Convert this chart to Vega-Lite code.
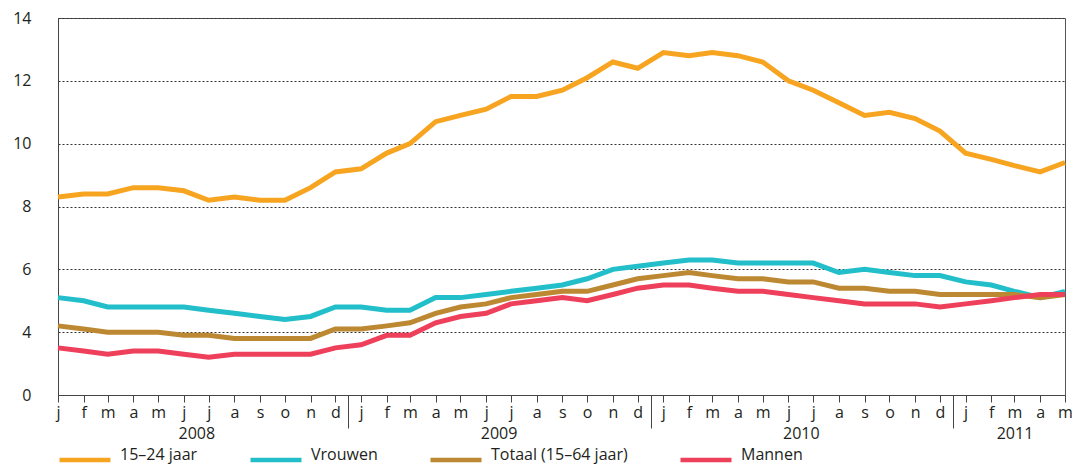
{
  "$schema": "https://vega.github.io/schema/vega-lite/v6.json",
  "width": 1007,
  "height": 377,
  "autosize": {"type": "none"},
  "padding": {"left": 58, "top": 18, "right": 7, "bottom": 69},
  "background": "white",
  "config": {
    "font": "Open Sans",
    "view": {"stroke": "#555", "strokeWidth": 1},
    "axis": {"labelFont": "Open Sans", "labelFontSize": 16, "labelColor": "#231f20", "title": null}
  },
  "data": {
    "values": [
      {"date": "2008-01-01", "series": "15–24 jaar", "value": 8.3},
      {"date": "2008-02-01", "series": "15–24 jaar", "value": 8.4},
      {"date": "2008-03-01", "series": "15–24 jaar", "value": 8.4},
      {"date": "2008-04-01", "series": "15–24 jaar", "value": 8.6},
      {"date": "2008-05-01", "series": "15–24 jaar", "value": 8.6},
      {"date": "2008-06-01", "series": "15–24 jaar", "value": 8.5},
      {"date": "2008-07-01", "series": "15–24 jaar", "value": 8.2},
      {"date": "2008-08-01", "series": "15–24 jaar", "value": 8.3},
      {"date": "2008-09-01", "series": "15–24 jaar", "value": 8.2},
      {"date": "2008-10-01", "series": "15–24 jaar", "value": 8.2},
      {"date": "2008-11-01", "series": "15–24 jaar", "value": 8.6},
      {"date": "2008-12-01", "series": "15–24 jaar", "value": 9.1},
      {"date": "2009-01-01", "series": "15–24 jaar", "value": 9.2},
      {"date": "2009-02-01", "series": "15–24 jaar", "value": 9.7},
      {"date": "2009-03-01", "series": "15–24 jaar", "value": 10.0},
      {"date": "2009-04-01", "series": "15–24 jaar", "value": 10.7},
      {"date": "2009-05-01", "series": "15–24 jaar", "value": 10.9},
      {"date": "2009-06-01", "series": "15–24 jaar", "value": 11.1},
      {"date": "2009-07-01", "series": "15–24 jaar", "value": 11.5},
      {"date": "2009-08-01", "series": "15–24 jaar", "value": 11.5},
      {"date": "2009-09-01", "series": "15–24 jaar", "value": 11.7},
      {"date": "2009-10-01", "series": "15–24 jaar", "value": 12.1},
      {"date": "2009-11-01", "series": "15–24 jaar", "value": 12.6},
      {"date": "2009-12-01", "series": "15–24 jaar", "value": 12.4},
      {"date": "2010-01-01", "series": "15–24 jaar", "value": 12.9},
      {"date": "2010-02-01", "series": "15–24 jaar", "value": 12.8},
      {"date": "2010-03-01", "series": "15–24 jaar", "value": 12.9},
      {"date": "2010-04-01", "series": "15–24 jaar", "value": 12.8},
      {"date": "2010-05-01", "series": "15–24 jaar", "value": 12.6},
      {"date": "2010-06-01", "series": "15–24 jaar", "value": 12.0},
      {"date": "2010-07-01", "series": "15–24 jaar", "value": 11.7},
      {"date": "2010-08-01", "series": "15–24 jaar", "value": 11.3},
      {"date": "2010-09-01", "series": "15–24 jaar", "value": 10.9},
      {"date": "2010-10-01", "series": "15–24 jaar", "value": 11.0},
      {"date": "2010-11-01", "series": "15–24 jaar", "value": 10.8},
      {"date": "2010-12-01", "series": "15–24 jaar", "value": 10.4},
      {"date": "2011-01-01", "series": "15–24 jaar", "value": 9.7},
      {"date": "2011-02-01", "series": "15–24 jaar", "value": 9.5},
      {"date": "2011-03-01", "series": "15–24 jaar", "value": 9.3},
      {"date": "2011-04-01", "series": "15–24 jaar", "value": 9.1},
      {"date": "2011-05-01", "series": "15–24 jaar", "value": 9.4},

      {"date": "2008-01-01", "series": "Vrouwen", "value": 5.1},
      {"date": "2008-02-01", "series": "Vrouwen", "value": 5.0},
      {"date": "2008-03-01", "series": "Vrouwen", "value": 4.8},
      {"date": "2008-04-01", "series": "Vrouwen", "value": 4.8},
      {"date": "2008-05-01", "series": "Vrouwen", "value": 4.8},
      {"date": "2008-06-01", "series": "Vrouwen", "value": 4.8},
      {"date": "2008-07-01", "series": "Vrouwen", "value": 4.7},
      {"date": "2008-08-01", "series": "Vrouwen", "value": 4.6},
      {"date": "2008-09-01", "series": "Vrouwen", "value": 4.5},
      {"date": "2008-10-01", "series": "Vrouwen", "value": 4.4},
      {"date": "2008-11-01", "series": "Vrouwen", "value": 4.5},
      {"date": "2008-12-01", "series": "Vrouwen", "value": 4.8},
      {"date": "2009-01-01", "series": "Vrouwen", "value": 4.8},
      {"date": "2009-02-01", "series": "Vrouwen", "value": 4.7},
      {"date": "2009-03-01", "series": "Vrouwen", "value": 4.7},
      {"date": "2009-04-01", "series": "Vrouwen", "value": 5.1},
      {"date": "2009-05-01", "series": "Vrouwen", "value": 5.1},
      {"date": "2009-06-01", "series": "Vrouwen", "value": 5.2},
      {"date": "2009-07-01", "series": "Vrouwen", "value": 5.3},
      {"date": "2009-08-01", "series": "Vrouwen", "value": 5.4},
      {"date": "2009-09-01", "series": "Vrouwen", "value": 5.5},
      {"date": "2009-10-01", "series": "Vrouwen", "value": 5.7},
      {"date": "2009-11-01", "series": "Vrouwen", "value": 6.0},
      {"date": "2009-12-01", "series": "Vrouwen", "value": 6.1},
      {"date": "2010-01-01", "series": "Vrouwen", "value": 6.2},
      {"date": "2010-02-01", "series": "Vrouwen", "value": 6.3},
      {"date": "2010-03-01", "series": "Vrouwen", "value": 6.3},
      {"date": "2010-04-01", "series": "Vrouwen", "value": 6.2},
      {"date": "2010-05-01", "series": "Vrouwen", "value": 6.2},
      {"date": "2010-06-01", "series": "Vrouwen", "value": 6.2},
      {"date": "2010-07-01", "series": "Vrouwen", "value": 6.2},
      {"date": "2010-08-01", "series": "Vrouwen", "value": 5.9},
      {"date": "2010-09-01", "series": "Vrouwen", "value": 6.0},
      {"date": "2010-10-01", "series": "Vrouwen", "value": 5.9},
      {"date": "2010-11-01", "series": "Vrouwen", "value": 5.8},
      {"date": "2010-12-01", "series": "Vrouwen", "value": 5.8},
      {"date": "2011-01-01", "series": "Vrouwen", "value": 5.6},
      {"date": "2011-02-01", "series": "Vrouwen", "value": 5.5},
      {"date": "2011-03-01", "series": "Vrouwen", "value": 5.3},
      {"date": "2011-04-01", "series": "Vrouwen", "value": 5.1},
      {"date": "2011-05-01", "series": "Vrouwen", "value": 5.3},

      {"date": "2008-01-01", "series": "Totaal (15–64 jaar)", "value": 4.2},
      {"date": "2008-02-01", "series": "Totaal (15–64 jaar)", "value": 4.1},
      {"date": "2008-03-01", "series": "Totaal (15–64 jaar)", "value": 4.0},
      {"date": "2008-04-01", "series": "Totaal (15–64 jaar)", "value": 4.0},
      {"date": "2008-05-01", "series": "Totaal (15–64 jaar)", "value": 4.0},
      {"date": "2008-06-01", "series": "Totaal (15–64 jaar)", "value": 3.9},
      {"date": "2008-07-01", "series": "Totaal (15–64 jaar)", "value": 3.9},
      {"date": "2008-08-01", "series": "Totaal (15–64 jaar)", "value": 3.8},
      {"date": "2008-09-01", "series": "Totaal (15–64 jaar)", "value": 3.8},
      {"date": "2008-10-01", "series": "Totaal (15–64 jaar)", "value": 3.8},
      {"date": "2008-11-01", "series": "Totaal (15–64 jaar)", "value": 3.8},
      {"date": "2008-12-01", "series": "Totaal (15–64 jaar)", "value": 4.1},
      {"date": "2009-01-01", "series": "Totaal (15–64 jaar)", "value": 4.1},
      {"date": "2009-02-01", "series": "Totaal (15–64 jaar)", "value": 4.2},
      {"date": "2009-03-01", "series": "Totaal (15–64 jaar)", "value": 4.3},
      {"date": "2009-04-01", "series": "Totaal (15–64 jaar)", "value": 4.6},
      {"date": "2009-05-01", "series": "Totaal (15–64 jaar)", "value": 4.8},
      {"date": "2009-06-01", "series": "Totaal (15–64 jaar)", "value": 4.9},
      {"date": "2009-07-01", "series": "Totaal (15–64 jaar)", "value": 5.1},
      {"date": "2009-08-01", "series": "Totaal (15–64 jaar)", "value": 5.2},
      {"date": "2009-09-01", "series": "Totaal (15–64 jaar)", "value": 5.3},
      {"date": "2009-10-01", "series": "Totaal (15–64 jaar)", "value": 5.3},
      {"date": "2009-11-01", "series": "Totaal (15–64 jaar)", "value": 5.5},
      {"date": "2009-12-01", "series": "Totaal (15–64 jaar)", "value": 5.7},
      {"date": "2010-01-01", "series": "Totaal (15–64 jaar)", "value": 5.8},
      {"date": "2010-02-01", "series": "Totaal (15–64 jaar)", "value": 5.9},
      {"date": "2010-03-01", "series": "Totaal (15–64 jaar)", "value": 5.8},
      {"date": "2010-04-01", "series": "Totaal (15–64 jaar)", "value": 5.7},
      {"date": "2010-05-01", "series": "Totaal (15–64 jaar)", "value": 5.7},
      {"date": "2010-06-01", "series": "Totaal (15–64 jaar)", "value": 5.6},
      {"date": "2010-07-01", "series": "Totaal (15–64 jaar)", "value": 5.6},
      {"date": "2010-08-01", "series": "Totaal (15–64 jaar)", "value": 5.4},
      {"date": "2010-09-01", "series": "Totaal (15–64 jaar)", "value": 5.4},
      {"date": "2010-10-01", "series": "Totaal (15–64 jaar)", "value": 5.3},
      {"date": "2010-11-01", "series": "Totaal (15–64 jaar)", "value": 5.3},
      {"date": "2010-12-01", "series": "Totaal (15–64 jaar)", "value": 5.2},
      {"date": "2011-01-01", "series": "Totaal (15–64 jaar)", "value": 5.2},
      {"date": "2011-02-01", "series": "Totaal (15–64 jaar)", "value": 5.2},
      {"date": "2011-03-01", "series": "Totaal (15–64 jaar)", "value": 5.2},
      {"date": "2011-04-01", "series": "Totaal (15–64 jaar)", "value": 5.1},
      {"date": "2011-05-01", "series": "Totaal (15–64 jaar)", "value": 5.2},

      {"date": "2008-01-01", "series": "Mannen", "value": 3.5},
      {"date": "2008-02-01", "series": "Mannen", "value": 3.4},
      {"date": "2008-03-01", "series": "Mannen", "value": 3.3},
      {"date": "2008-04-01", "series": "Mannen", "value": 3.4},
      {"date": "2008-05-01", "series": "Mannen", "value": 3.4},
      {"date": "2008-06-01", "series": "Mannen", "value": 3.3},
      {"date": "2008-07-01", "series": "Mannen", "value": 3.2},
      {"date": "2008-08-01", "series": "Mannen", "value": 3.3},
      {"date": "2008-09-01", "series": "Mannen", "value": 3.3},
      {"date": "2008-10-01", "series": "Mannen", "value": 3.3},
      {"date": "2008-11-01", "series": "Mannen", "value": 3.3},
      {"date": "2008-12-01", "series": "Mannen", "value": 3.5},
      {"date": "2009-01-01", "series": "Mannen", "value": 3.6},
      {"date": "2009-02-01", "series": "Mannen", "value": 3.9},
      {"date": "2009-03-01", "series": "Mannen", "value": 3.9},
      {"date": "2009-04-01", "series": "Mannen", "value": 4.3},
      {"date": "2009-05-01", "series": "Mannen", "value": 4.5},
      {"date": "2009-06-01", "series": "Mannen", "value": 4.6},
      {"date": "2009-07-01", "series": "Mannen", "value": 4.9},
      {"date": "2009-08-01", "series": "Mannen", "value": 5.0},
      {"date": "2009-09-01", "series": "Mannen", "value": 5.1},
      {"date": "2009-10-01", "series": "Mannen", "value": 5.0},
      {"date": "2009-11-01", "series": "Mannen", "value": 5.2},
      {"date": "2009-12-01", "series": "Mannen", "value": 5.4},
      {"date": "2010-01-01", "series": "Mannen", "value": 5.5},
      {"date": "2010-02-01", "series": "Mannen", "value": 5.5},
      {"date": "2010-03-01", "series": "Mannen", "value": 5.4},
      {"date": "2010-04-01", "series": "Mannen", "value": 5.3},
      {"date": "2010-05-01", "series": "Mannen", "value": 5.3},
      {"date": "2010-06-01", "series": "Mannen", "value": 5.2},
      {"date": "2010-07-01", "series": "Mannen", "value": 5.1},
      {"date": "2010-08-01", "series": "Mannen", "value": 5.0},
      {"date": "2010-09-01", "series": "Mannen", "value": 4.9},
      {"date": "2010-10-01", "series": "Mannen", "value": 4.9},
      {"date": "2010-11-01", "series": "Mannen", "value": 4.9},
      {"date": "2010-12-01", "series": "Mannen", "value": 4.8},
      {"date": "2011-01-01", "series": "Mannen", "value": 4.9},
      {"date": "2011-02-01", "series": "Mannen", "value": 5.0},
      {"date": "2011-03-01", "series": "Mannen", "value": 5.1},
      {"date": "2011-04-01", "series": "Mannen", "value": 5.2},
      {"date": "2011-05-01", "series": "Mannen", "value": 5.2}
    ]
  },
  "resolve": {"axis": {"x": "independent"}},
  "layer": [
    {
      "mark": {"type": "line", "strokeWidth": 5, "strokeJoin": "miter", "strokeCap": "butt"},
      "encoding": {
        "x": {
          "field": "date",
          "type": "temporal",
          "scale": {"type": "utc", "domain": [{"year": 2008, "month": 1, "date": 1, "utc": true}, {"year": 2011, "month": 5, "date": 1, "utc": true}], "nice": false, "padding": 0},
          "axis": {
            "orient": "bottom",
            "tickCount": {"interval": "month", "step": 1},
            "labelExpr": "['j','f','m','a','m','j','j','a','s','o','n','d'][utcmonth(datum.value)]",
            "tickSize": 7,
            "labelPadding": 2,
            "domainColor": "#444",
            "tickColor": "#444",
            "labelOverlap": false,
            "labelFlush": false,
            "labelBound": false,
            "grid": false,
            "title": null
          }
        },
        "y": {
          "field": "value",
          "type": "quantitative",
          "scale": {"domain": [2, 14], "nice": false, "zero": false},
          "axis": {
            "values": [2, 4, 6, 8, 10, 12, 14],
            "labelExpr": "datum.value == 2 ? '0' : datum.value",
            "grid": true,
            "gridDash": [2, 2],
            "gridColor": "#333",
            "gridWidth": 1,
            "ticks": false,
            "tickSize": 0,
            "domainColor": "#444",
            "labelPadding": 27,
            "title": null
          }
        },
        "color": {
          "field": "series",
          "type": "nominal",
          "scale": {
            "domain": ["15–24 jaar", "Vrouwen", "Totaal (15–64 jaar)", "Mannen"],
            "range": ["#F7A521", "#22BECA", "#BD8832", "#EE3F5B"]
          },
          "legend": {
            "title": null,
            "orient": "none",
            "direction": "horizontal",
            "legendX": -1,
            "legendY": 414,
            "columns": 4,
            "columnPadding": 43,
            "symbolType": "stroke",
            "symbolSize": 2601,
            "symbolStrokeWidth": 4.5,
            "labelOffset": 7,
            "labelBaseline": "alphabetic",
            "labelFont": "Open Sans",
            "labelFontSize": 16,
            "labelColor": "#231f20",
            "labelLimit": 300
          }
        }
      }
    },
    {
      "mark": {"type": "point", "opacity": 0},
      "encoding": {
        "x": {
          "field": "date",
          "type": "temporal",
          "axis": {
            "orient": "bottom",
            "values": [
              {"year": 2008, "month": 6, "date": 16, "utc": true},
              {"year": 2009, "month": 6, "date": 16, "utc": true},
              {"year": 2010, "month": 6, "date": 16, "utc": true},
              {"year": 2011, "month": 3, "date": 1, "utc": true}
            ],
            "labelExpr": "utcyear(datum.value)",
            "ticks": false,
            "tickSize": 0,
            "domain": false,
            "grid": false,
            "labelPadding": 30,
            "labelOverlap": false,
            "labelFlush": false,
            "labelBound": false,
            "title": null
          }
        }
      }
    },
    {
      "mark": {"type": "point", "opacity": 0},
      "encoding": {
        "x": {
          "field": "date",
          "type": "temporal",
          "axis": {
            "orient": "bottom",
            "values": [
              {"year": 2008, "month": 12, "date": 16, "hours": 12, "utc": true},
              {"year": 2009, "month": 12, "date": 16, "hours": 12, "utc": true},
              {"year": 2010, "month": 12, "date": 16, "hours": 12, "utc": true}
            ],
            "labels": false,
            "ticks": true,
            "tickSize": 33,
            "tickColor": "#444",
            "tickWidth": 1,
            "domain": false,
            "grid": false,
            "title": null
          }
        }
      }
    }
  ]
}
